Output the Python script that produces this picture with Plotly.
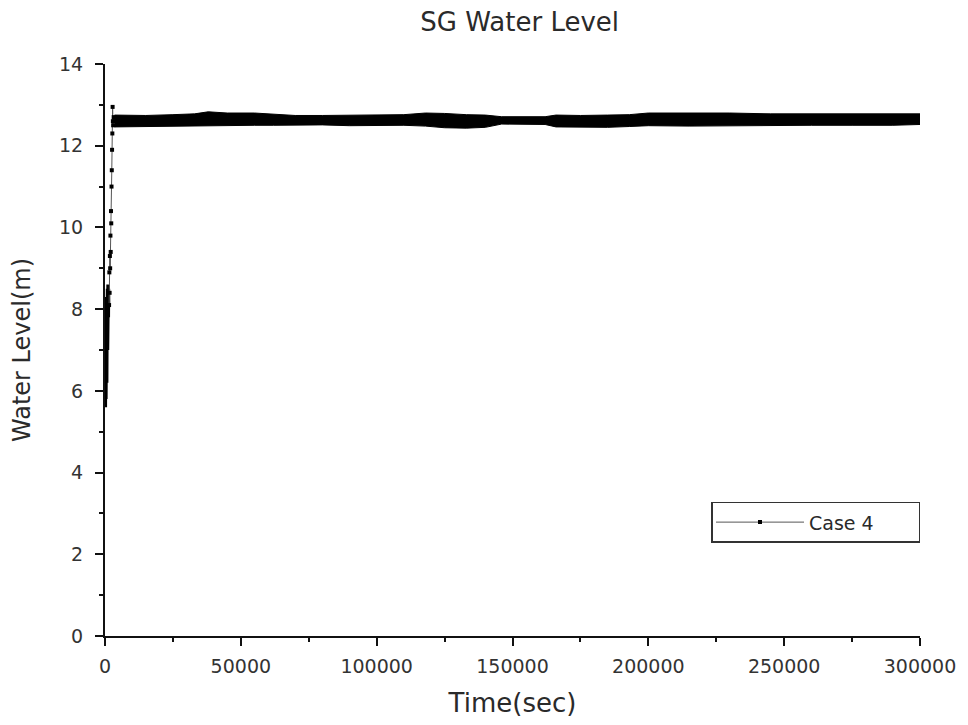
import plotly.graph_objects as go

# ---- data ----
# early oscillating start-up (time in s, SG level in m)
osc_t = [200, 250, 300, 350, 400, 450, 500, 550, 600, 650, 700, 750, 800, 850,
         900, 950, 1000, 1050, 1100, 1150, 1200, 1250, 1300, 1350, 1400, 1450,
         1500]
osc_v = [5.8, 7.6, 5.6, 8.0, 5.7, 8.3, 5.8, 8.1, 6.0, 8.4, 5.9, 8.5, 6.2, 8.3,
         6.5, 8.6, 6.7, 8.4, 7.0, 8.6, 7.2, 8.5, 7.5, 8.6, 7.8, 8.5, 8.1]

# rise to the controlled level
rise_t = [1500, 1600, 1700, 1800, 1900, 2000, 2100, 2200, 2300, 2400, 2500,
          2600, 2700, 2800, 2900, 3000, 3200, 3500]
rise_v = [8.1, 8.9, 8.4, 9.3, 9.0, 9.8, 9.4, 10.4, 10.1, 11.0, 11.4,
          11.9, 12.3, 12.95, 12.6, 12.5, 12.7, 12.6]

# steady oscillation band: upper / lower envelope of the level
band_t = [3500, 15000, 25000, 33000, 38000, 45000, 55000, 62000, 70000, 80000,
          90000, 100000, 110000, 118000, 125000, 133000, 140000, 146000, 155000,
          162000, 166000, 175000, 185000, 193000, 200000, 215000, 230000, 245000,
          260000, 275000, 290000, 300000]
band_hi = [12.75, 12.74, 12.76, 12.78, 12.83, 12.80, 12.80, 12.78, 12.74, 12.74,
           12.75, 12.75, 12.76, 12.80, 12.79, 12.76, 12.75, 12.71, 12.70,
           12.71, 12.75, 12.74, 12.75, 12.76, 12.80, 12.80, 12.80, 12.78,
           12.78, 12.78, 12.77, 12.78]
band_lo = [12.46, 12.47, 12.48, 12.48, 12.50, 12.49, 12.50, 12.50, 12.50, 12.51,
           12.49, 12.50, 12.50, 12.48, 12.44, 12.43, 12.45, 12.53, 12.53,
           12.52, 12.46, 12.45, 12.45, 12.47, 12.49, 12.48, 12.49, 12.50,
           12.50, 12.50, 12.50, 12.52]

x_ticks = [0, 50000, 100000, 150000, 200000, 250000, 300000]
y_ticks = [0, 2, 4, 6, 8, 10, 12, 14]

FONT = "DejaVu Sans, Verdana, sans-serif"
INK = "#2a2a2a"
AX = "#111111"

fig = go.Figure()

fig.add_trace(go.Scatter(
    x=band_t, y=band_hi, mode="lines",
    line=dict(color="black", width=1),
    legendgroup="c4", showlegend=False, hoverinfo="skip"))
fig.add_trace(go.Scatter(
    x=band_t, y=band_lo, mode="lines", fill="tonexty",
    fillcolor="black", line=dict(color="black", width=1),
    legendgroup="c4", showlegend=False, hoverinfo="skip"))

fig.add_trace(go.Scatter(
    x=osc_t, y=osc_v, mode="lines",
    line=dict(color="black", width=2.5),
    legendgroup="c4", showlegend=False))

fig.add_trace(go.Scatter(
    x=rise_t, y=rise_v, mode="lines+markers", name="Case 4",
    legendgroup="c4",
    line=dict(color="#555555", width=1),
    marker=dict(symbol="square", size=4, color="black")))

fig.update_layout(
    width=960, height=717,
    margin=dict(l=96, r=44, t=56, b=89),
    paper_bgcolor="white", plot_bgcolor="white",
    font=dict(family=FONT, color=INK, size=19),
    title=dict(text="SG Water Level", x=0.533, xanchor="center",
               y=0.980, yanchor="middle",
               font=dict(family=FONT, size=26, color=INK)),
    xaxis=dict(
        range=[0, 300000], tickvals=x_ticks,
        ticktext=[str(v) for v in x_ticks],
        showgrid=False, zeroline=False,
        showline=True, linecolor=AX, linewidth=2,
        ticks="outside", ticklen=8, tickwidth=1.5, tickcolor=AX,
        ticklabelstandoff=4,
        minor=dict(dtick=25000, tick0=0, ticks="outside", ticklen=4,
                   tickwidth=1.5, tickcolor=AX, showgrid=False),
        tickfont=dict(family=FONT, size=19, color="#333333"),
        title=dict(text="Time(sec)", standoff=18,
                   font=dict(family=FONT, size=26, color=INK)),
    ),
    yaxis=dict(
        range=[0, 14], tickvals=y_ticks,
        ticktext=[str(v) for v in y_ticks],
        showgrid=False, zeroline=False,
        showline=True, linecolor=AX, linewidth=2,
        ticks="outside", ticklen=8, tickwidth=1.5, tickcolor=AX,
        ticklabelstandoff=8,
        minor=dict(dtick=1, tick0=0, ticks="outside", ticklen=4,
                   tickwidth=1.5, tickcolor=AX, showgrid=False),
        tickfont=dict(family=FONT, size=19, color="#333333"),
        title=dict(text="Water Level(m)", standoff=22,
                   font=dict(family=FONT, size=24, color=INK)),
    ),
    legend=dict(
        orientation="h",
        x=1.0, xanchor="right", y=0.163, yanchor="bottom",
        bgcolor="white", bordercolor="#333333", borderwidth=1.5,
        font=dict(family=FONT, size=19, color=INK),
        itemwidth=88, entrywidth=104, entrywidthmode="pixels",
    ),
)

fig.write_html("out.html")
